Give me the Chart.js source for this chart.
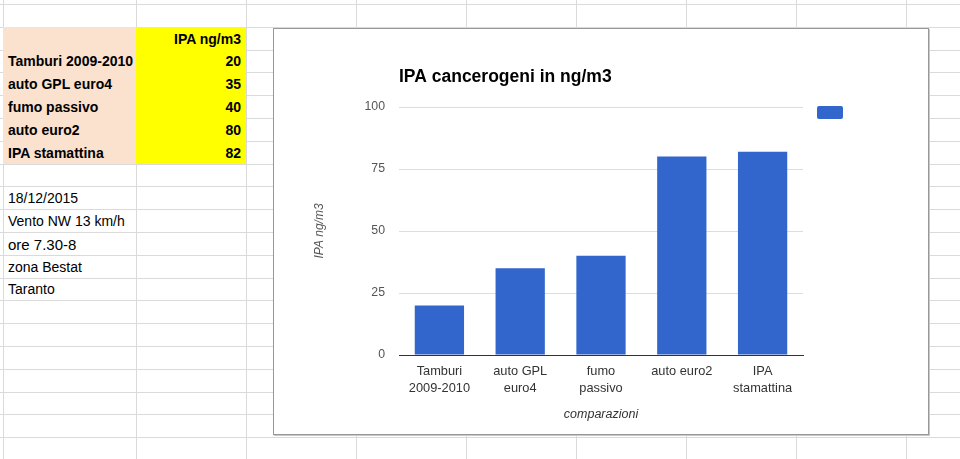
<!DOCTYPE html>
<html>
<head>
<meta charset="utf-8">
<script src="https://cdn.jsdelivr.net/npm/chart.js@4.4.1/dist/chart.umd.min.js"></script>
<style>
  html, body { margin: 0; padding: 0; background: #fff; }
  #sheet { position: relative; width: 960px; height: 459px; overflow: hidden; font-family: "Liberation Sans", Arial, sans-serif; }
  .vl { position: absolute; top: 0; width: 1px; height: 459px; background: #dadada; }
  .hl { position: absolute; left: 0; height: 1px; width: 960px; background: #dadada; }
  .cell { position: absolute; box-sizing: border-box; font-size: 14px; color: #000; white-space: nowrap; padding: 0 5px; }
  .peach { background: #fbe2ce; }
  .yellow { background: #ffff00; }
  .b { font-weight: bold; }
  .r { text-align: right; }
  #box { position: absolute; left: 273px; top: 28px; width: 656px; height: 407px; box-sizing: border-box; border: 1px solid #989898; background: #fff; box-shadow: 1px 1px 0 #c8c8c8; }
  #wrap { position: relative; width: 654px; height: 405px; }
</style>
</head>
<body>
<div id="sheet">
  <div id="box"><div id="wrap"><canvas id="ipaChart"></canvas></div></div>
</div>
<script>
const categories = ["Tamburi 2009-2010", "auto GPL euro4", "fumo passivo", "auto euro2", "IPA stamattina"];
const tickLabels = [["Tamburi", "2009-2010"], ["auto GPL", "euro4"], ["fumo", "passivo"], "auto euro2", ["IPA", "stamattina"]];
const ipaValues = [20, 35, 40, 80, 82];
const yTicks = [0, 25, 50, 75, 100];
const notes = ["18/12/2015", "Vento NW 13 km/h", "ore 7.30-8", "zona Bestat", "Taranto"];
const seriesName = "IPA ng/m3";

// spreadsheet grid
const sheet = document.getElementById("sheet");
const box = document.getElementById("box");
const colX = [3, 136, 246, 356, 466, 576, 686, 796, 906];
const rowH = 22.8;
const rowTop = r => 4 + rowH * r;

colX.forEach(x => {
	let d = document.createElement("div");
	d.className = "vl";
	d.style.left = x + "px";
	sheet.insertBefore(d, box);
});
for (let r = 0; r < 21; r++) {
	let d = document.createElement("div");
	d.className = "hl";
	d.style.top = Math.round(rowTop(r)) + "px";
	sheet.insertBefore(d, box);
}

function cell(col, row, text, cls, extra) {
	let d = document.createElement("div");
	d.className = "cell " + (cls || "");
	let top = Math.round(rowTop(row));
	let bottom = Math.round(rowTop(row + 1));
	d.style.left = colX[col] + "px";
	d.style.width = (colX[col + 1] - colX[col]) + "px";
	d.style.top = top + "px";
	d.style.height = (bottom - top) + "px";
	d.style.lineHeight = (bottom - top + 1) + "px";
	d.textContent = text;
	if (extra) Object.assign(d.style, extra);
	sheet.insertBefore(d, box);
	return d;
}

cell(0, 1, "", "peach");
cell(1, 1, seriesName, "yellow b r");
for (let i = 0; i < categories.length; i++) {
	cell(0, 2 + i, categories[i], "peach b");
	cell(1, 2 + i, ipaValues[i], "yellow b r");
}
for (let i = 0; i < notes.length; i++) {
	let c = cell(0, 8 + i, notes[i], "", { overflow: "visible" });
	if (i == 2) { c.style.fontSize = "15px"; c.style.lineHeight = "25px"; }
}

// chart
Chart.defaults.font.family = "'Liberation Sans', Arial, sans-serif";

const ctx = document.getElementById("ipaChart");
const ipaChart = new Chart(ctx, {
	type: "bar",
	data: {
		labels: tickLabels,
		datasets: [
			{
				label: "",
				data: ipaValues,
				backgroundColor: "#3366cc",
				borderWidth: 0,
				categoryPercentage: 1,
				barPercentage: 0.61,
			},
		],
	},
	options: {
		responsive: true,
		maintainAspectRatio: false,
		animation: false,
		layout: {
			padding: { left: 34.8, right: 69, top: 0, bottom: 0 },
		},
		plugins: {
			title: {
				display: true,
				text: "IPA cancerogeni in ng/m3",
				align: "start",
				fullSize: false,
				color: "#000",
				font: { size: 17.5, weight: "bold" },
				padding: { top: 38, bottom: 19 },
			},
			legend: {
				display: true,
				position: "right",
				align: "start",
				// empty legend title only pushes the swatch down to the top gridline
				title: { display: true, text: "", font: { size: 12 }, padding: { top: 48.6, bottom: 0 } },
				labels: {
					boxWidth: 26,
					boxHeight: 13,
					padding: 14,
					useBorderRadius: true,
					borderRadius: 2,
					font: { size: 12 },
				},
			},
			tooltip: { enabled: false },
		},
		scales: {
			x: {
				grid: { display: false, drawTicks: false },
				border: { display: true, color: "#333", width: 1 },
				ticks: {
					color: "#333",
					padding: 8,
					maxRotation: 0,
					autoSkip: false,
					font: { size: 12.8, lineHeight: 1.33 },
				},
				title: {
					display: true,
					text: "comparazioni",
					color: "#333",
					font: { size: 12.5, style: "italic" },
					padding: { top: 4, bottom: 11.5 },
				},
				afterFit: s => { s.height = 79; },
			},
			y: {
				min: yTicks[0],
				max: yTicks[yTicks.length - 1],
				grid: {
					drawTicks: false,
					color: c => (c.tick && c.tick.value === 0 ? "#333" : "#dddddd"),
					lineWidth: 1,
				},
				border: { display: false },
				ticks: {
					stepSize: yTicks[1] - yTicks[0],
					color: "#555",
					padding: 14,
					font: { size: 12.3 },
				},
				title: {
					display: true,
					text: seriesName,
					color: "#555",
					font: { size: 12, style: "italic" },
					padding: { top: 4, bottom: 4 },
				},
				afterFit: s => { s.width = 90.2; },
			},
		},
	},
});
</script>
</body>
</html>
